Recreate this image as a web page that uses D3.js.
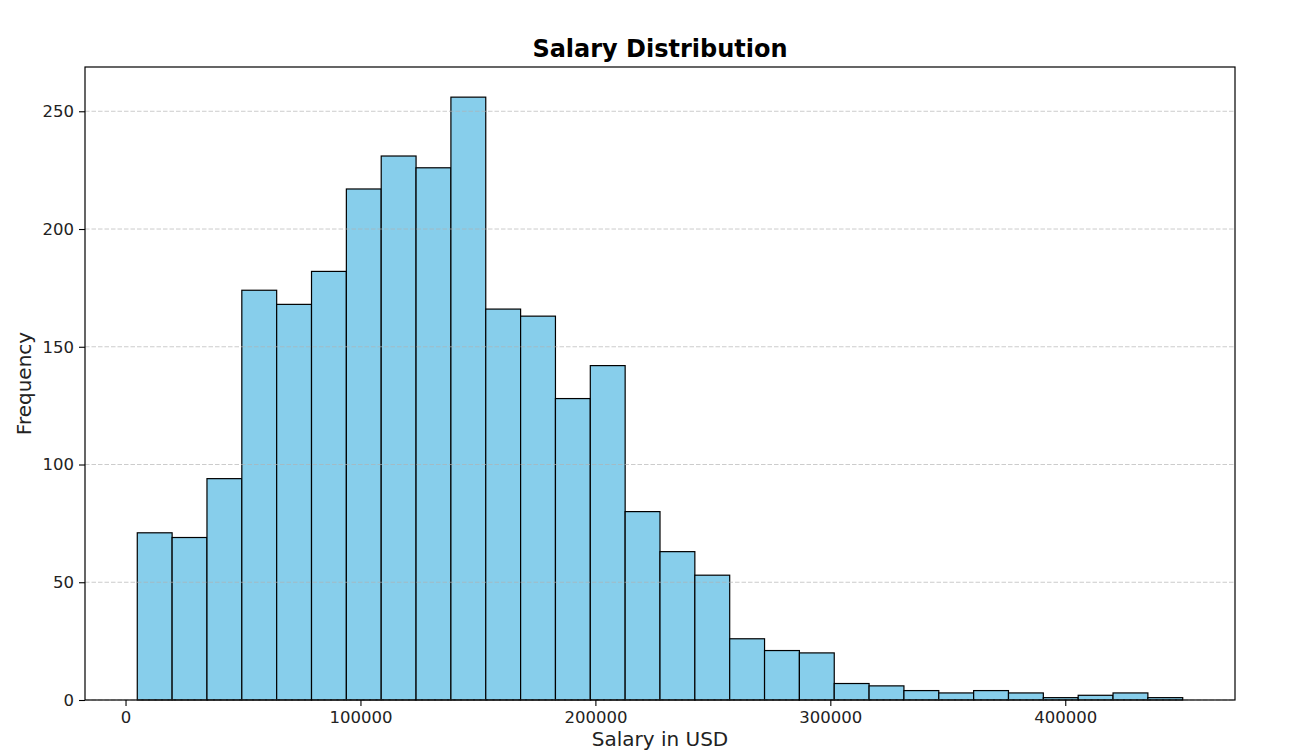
<!DOCTYPE html>
<html>
<head>
<meta charset="utf-8">
<script src="https://cdn.jsdelivr.net/npm/d3@7"></script>
<style>
  body { margin: 0; background: #fff; }
  svg { font-family: "DejaVu Sans", sans-serif; }
</style>
</head>
<body>
<svg id="chart" width="1291" height="753"></svg>
<script>
// histogram: 30 bins between binStart and binEnd
var binStart = 5000;
var binEnd = 450000;
var counts = [71, 69, 94, 174, 168, 182, 217, 231, 226, 256,
              166, 163, 128, 142, 80, 63, 53, 26, 21, 20,
              7, 6, 4, 3, 4, 3, 1, 2, 3, 1];
var xTicks = [0, 100000, 200000, 300000, 400000];
var yTicks = [0, 50, 100, 150, 200, 250];

var margin = {top: 67, right: 56, bottom: 53, left: 85},
    width = 1291 - margin.left - margin.right,
    height = 753 - margin.top - margin.bottom;

var svg = d3.select("#chart");
var g = svg.append("g").attr("transform", "translate(" + margin.left + "," + margin.top + ")");

var binW = (binEnd - binStart) / counts.length;
var pad = (binEnd - binStart) * 0.05;
var x = d3.scaleLinear().domain([binStart - pad, binEnd + pad]).range([0, width]);
var y = d3.scaleLinear().domain([0, d3.max(counts) * 1.05]).range([height, 0]);

// bars
g.selectAll("rect.bar")
    .data(counts)
  .enter().append("rect")
    .attr("class", "bar")
    .attr("x", function(d, i) { return x(binStart + i * binW); })
    .attr("width", function(d, i) { return x(binStart + (i + 1) * binW) - x(binStart + i * binW); })
    .attr("y", function(d) { return y(d); })
    .attr("height", function(d) { return height - y(d); })
    .style("fill", "#87ceeb")
    .style("stroke", "#000")
    .style("stroke-width", 1.2);

// y grid (drawn over the bars, like matplotlib)
g.selectAll("line.grid")
    .data(yTicks)
  .enter().append("line")
    .attr("class", "grid")
    .attr("x1", 0).attr("x2", width)
    .attr("y1", function(d) { return y(d); })
    .attr("y2", function(d) { return y(d); })
    .style("stroke", "#b0b0b0")
    .style("stroke-opacity", 0.65)
    .style("stroke-width", 1)
    .style("stroke-dasharray", "4.5,2");

var xAxis = g.append("g")
    .attr("transform", "translate(0," + height + ")")
    .call(d3.axisBottom(x).tickValues(xTicks).tickFormat(d3.format("d")).tickSize(6).tickPadding(5));
var yAxis = g.append("g")
    .call(d3.axisLeft(y).tickValues(yTicks).tickFormat(d3.format("d")).tickSize(6).tickPadding(5));

[xAxis, yAxis].forEach(function(a) {
  a.select(".domain").remove();
  a.selectAll("line").style("stroke", "#000").style("stroke-width", 1.1);
  a.selectAll("text").style("font-size", "16.5px").style("fill", "#222").style("font-family", "DejaVu Sans");
});

// frame
g.append("rect")
    .attr("width", width).attr("height", height)
    .style("fill", "none").style("stroke", "#000").style("stroke-width", 1.2);

svg.append("text")
    .attr("x", margin.left + width / 2).attr("y", 57)
    .attr("text-anchor", "middle")
    .style("font-size", "24px").style("font-weight", "bold")
    .text("Salary Distribution");

svg.append("text")
    .attr("x", margin.left + width / 2).attr("y", 746)
    .attr("text-anchor", "middle")
    .style("font-size", "20px").style("fill", "#222")
    .text("Salary in USD");

svg.append("text")
    .attr("transform", "translate(31," + (margin.top + height / 2) + ") rotate(-90)")
    .attr("text-anchor", "middle")
    .style("font-size", "20px").style("fill", "#222")
    .text("Frequency");
</script>
</body>
</html>
